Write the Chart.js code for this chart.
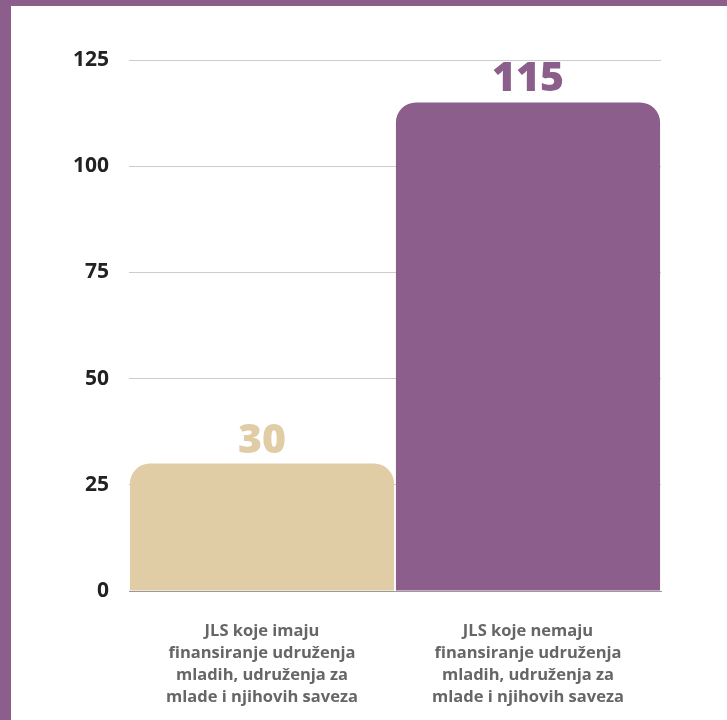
<!DOCTYPE html>
<html>
<head>
<meta charset="utf-8">
<script src="https://cdn.jsdelivr.net/npm/chart.js@4"></script>
<style>
    html, body { margin: 0; padding: 0; }
    body { background: #8b5e8b; width: 727px; height: 720px; overflow: hidden; position: relative; }
    #wrap { position: absolute; left: 11px; top: 6px; width: 716px; height: 714px; background: #fff; }
</style>
</head>
<body>
<div id="wrap"><canvas id="chart" width="716" height="714"></canvas></div>
<script>
let categories = [
    ["JLS koje imaju", "finansiranje udruženja", "mladih, udruženja za", "mlade i njihovih saveza"],
    ["JLS koje nemaju", "finansiranje udruženja", "mladih, udruženja za", "mlade i njihovih saveza"]
];
let values = [30, 115];
let barColors = ["#e0cca5", "#8b5e8b"];
let yTicks = [0, 25, 50, 75, 100, 125];

// value labels above bars, same colour as the bar
let valueLabels = {
    id: "valueLabels",
    afterDatasetsDraw(chart) {
        let c = chart.ctx;
        chart.getDatasetMeta(0).data.forEach((bar, i) => {
            c.save();
            c.fillStyle = barColors[i];
            c.font = "800 41px 'Open Sans'";
            c.textAlign = "center";
            c.textBaseline = "alphabetic";
            c.fillText(values[i], bar.x, bar.y - 11);
            c.restore();
        });
    }
};

let ctx = document.getElementById("chart").getContext("2d");
let chart = new Chart(ctx, {
    type: "bar",
    data: {
        labels: categories,
        datasets: [{
            data: values,
            backgroundColor: barColors,
            borderRadius: { topLeft: 20, topRight: 20 },
            borderSkipped: "bottom",
            barPercentage: 1,
            categoryPercentage: 0.993
        }]
    },
    options: {
        responsive: false,
        animation: false,
        layout: { padding: { top: 54, right: 66, left: 0, bottom: 0 } },
        plugins: {
            legend: { display: false },
            tooltip: { enabled: false }
        },
        scales: {
            y: {
                min: 0,
                max: 125,
                afterFit(scale) { scale.width = 118; },
                afterBuildTicks(scale) { scale.ticks = yTicks.map(v => ({ value: v })); },
                grid: { color: "#cccccc", drawTicks: false },
                border: { display: false },
                ticks: {
                    padding: 20,
                    color: "#222222",
                    font: { family: "Open Sans", size: 21, weight: "bold" }
                }
            },
            x: {
                afterFit(scale) { scale.height = 129; },
                grid: { display: false },
                border: { display: true, color: "#9a9a9a", width: 1 },
                ticks: {
                    padding: 21,
                    maxRotation: 0,
                    color: "#666666",
                    font: { family: "Open Sans", size: 16.5, weight: "bold", lineHeight: 1.33 }
                }
            }
        }
    },
    plugins: [valueLabels]
});
</script>
</body>
</html>
